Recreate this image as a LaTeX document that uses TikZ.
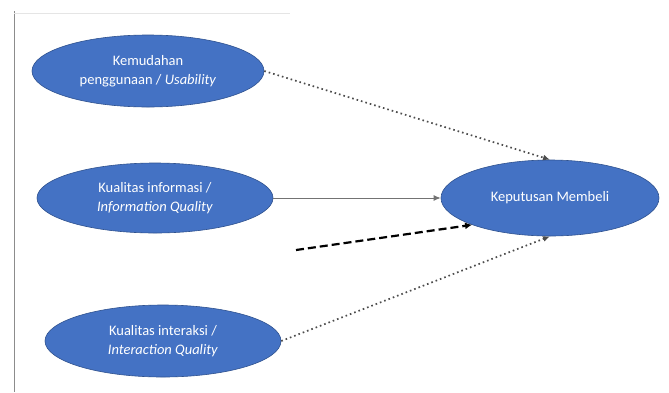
\documentclass[tikz,border=0pt]{standalone}
\usepackage{fontspec}
\setmainfont{Carlito}
\usetikzlibrary{shapes.geometric,arrows.meta}
\definecolor{ovalblue}{RGB}{68,114,196}
\definecolor{ovalline}{RGB}{47,82,143}
\tikzset{
  oval/.style={ellipse, fill=ovalblue, draw=ovalline, line width=0.6pt,
    text=white, inner sep=0pt, align=center,
    font=\fontsize{14.5}{19.5}\selectfont},
  dotline/.style={draw=black!70, line width=1.7pt, dash pattern=on 1.6pt off 3pt,
    -{Latex[length=7pt,width=6pt]}},
  thickdash/.style={draw=black, line width=2.2pt, dash pattern=on 8pt off 4pt,
    -{Latex[length=7pt,width=7pt]}},
  plainline/.style={draw=black!55, line width=1pt, -{Latex[length=7pt,width=6pt]}},
  frameline/.style={draw=black!45, line width=1pt}
}
\begin{document}
\begin{tikzpicture}[x=1pt,y=-1pt]
\useasboundingbox (0,0) rectangle (669,392);
\fill[white] (0,0) rectangle (669,392);
% frame
\coordinate (ftl) at (14,11);
\coordinate (fbl) at (14,392);
\coordinate (ftr) at (290,13);
\draw[frameline] (ftl) -- (fbl);
\draw[draw=black!10, line width=0.8pt] (14,13) -- (ftr);
% nodes
\node[oval, minimum width=232pt, minimum height=72pt] (k1) at (148,71)
  {Kemudahan\\penggunaan / \textit{Usability}};
\node[oval, minimum width=236pt, minimum height=70pt] (k2) at (155,198)
  {Kualitas informasi /\\\textit{Information Quality}};
\node[oval, minimum width=236pt, minimum height=72pt] (k3) at (163,341)
  {Kualitas interaksi /\\\textit{Interaction Quality}};
\node[oval, minimum width=218pt, minimum height=76pt] (r) at (550,198)
  {Keputusan Membeli};
\coordinate (free) at (296,250);
% connectors
\draw[dotline] (k1.east) -- (r.north);
\draw[plainline] (k2.east) -- (r.west);
\draw[thickdash] (free) -- (r.199);
\draw[dotline] (k3.east) -- (r.south);
\end{tikzpicture}
\end{document}
